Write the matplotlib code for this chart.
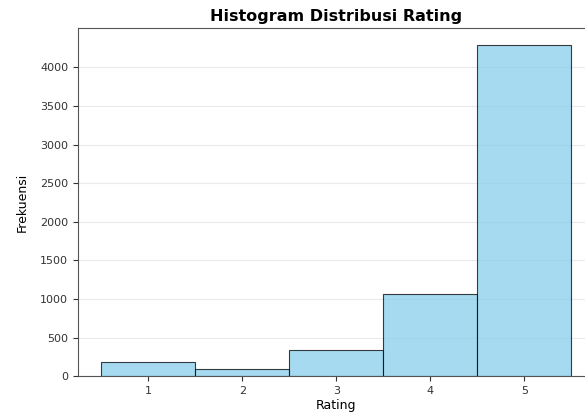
import matplotlib
matplotlib.use("Agg")
import matplotlib.pyplot as plt
import numpy as np

ratings = [1, 2, 3, 4, 5]
counts = [180, 95, 335, 1070, 4295]


def main():
    fig = plt.figure(figsize=(5.85, 4.12), dpi=100)
    ax = fig.add_axes([0.133, 0.087, 0.884, 0.845])

    ax.hist(
        ratings,
        bins=np.arange(0.5, 6.0, 1.0),
        weights=counts,
        color="skyblue",
        edgecolor="black",
        alpha=0.75,
        linewidth=0.8,
        zorder=2,
    )
    ax.yaxis.grid(True, color="#dddddd", alpha=0.6, linewidth=0.8, zorder=0)
    ax.set_xlim(0.25, 5.75)
    ax.set_ylim(0, max(counts) * 1.05)
    ax.set_xticks(ratings)
    ax.set_yticks(np.arange(0, 4001, 500))
    ax.tick_params(labelsize=8, colors="#333333")
    for s in ax.spines.values():
        s.set_color("#555555")

    ax.set_title("Histogram Distribusi Rating", fontsize=11.5, fontweight="bold", pad=5)
    ax.set_xlabel("Rating", fontsize=9, labelpad=2)
    ax.set_ylabel("Frekuensi", fontsize=9, labelpad=8)

    fig.savefig("out.png", dpi=100)


if __name__ == "__main__":
    main()
